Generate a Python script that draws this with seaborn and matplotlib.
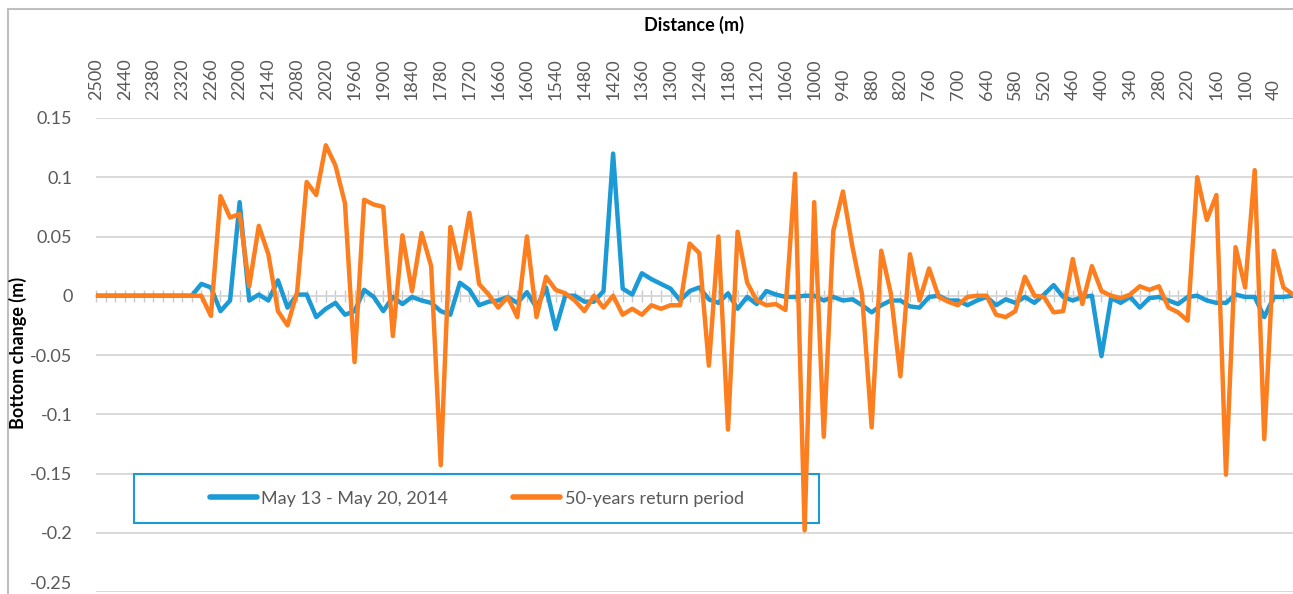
import numpy as np
import pandas as pd
import seaborn as sns
import matplotlib.pyplot as plt
from matplotlib.patches import Rectangle

# distance categories (m), one every 20 m from 2500 down to 0
distance = np.arange(2500, -1, -20)

# bottom change (m), May 13 - May 20, 2014
may_2014 = [
    0, 0, 0, 0, 0, 0, 0, 0, 0, 0,
    0, 0.010, 0.007, -0.013, -0.004, 0.079, -0.004, 0.001, -0.004, 0.013,
    -0.010, 0.001, 0.001, -0.018, -0.011, -0.006, -0.016, -0.013, 0.005, -0.001,
    -0.013, -0.001, -0.007, -0.001, -0.004, -0.006, -0.013, -0.016, 0.011, 0.005,
    -0.008, -0.005, -0.004, -0.001, -0.006, 0.003, -0.010, 0.007, -0.028, 0,
    0, -0.005, -0.005, 0.004, 0.120, 0.006, 0.001, 0.019, 0.014, 0.010,
    0.006, -0.004, 0.004, 0.007, -0.003, -0.006, 0.002, -0.011, -0.001, -0.007,
    0.004, 0.001, -0.001, -0.001, 0, 0, -0.004, -0.001, -0.004, -0.003,
    -0.008, -0.014, -0.008, -0.004, -0.004, -0.009, -0.010, -0.001, 0, -0.004,
    -0.004, -0.008, -0.004, -0.001, -0.008, -0.003, -0.006, -0.001, -0.006, 0.001,
    0.009, -0.001, -0.004, -0.001, 0, -0.051, -0.002, -0.006, -0.001, -0.010,
    -0.002, -0.001, -0.004, -0.007, -0.001, 0, -0.004, -0.006, -0.006, 0.001,
    -0.001, -0.001, -0.018, -0.001, -0.001, 0,
]

# bottom change (m), 50-years return period
return_50y = [
    0, 0, 0, 0, 0, 0, 0, 0, 0, 0,
    0, 0, -0.017, 0.084, 0.066, 0.069, 0.008, 0.059, 0.035, -0.013,
    -0.025, 0.003, 0.096, 0.085, 0.127, 0.110, 0.078, -0.056, 0.081, 0.077,
    0.075, -0.034, 0.051, 0.004, 0.053, 0.025, -0.143, 0.058, 0.023, 0.070,
    0.010, 0.001, -0.010, -0.001, -0.018, 0.050, -0.018, 0.016, 0.005, 0.002,
    -0.004, -0.013, 0, -0.010, 0, -0.016, -0.011, -0.016, -0.008, -0.011,
    -0.008, -0.008, 0.044, 0.036, -0.059, 0.050, -0.113, 0.054, 0.011, -0.004,
    -0.008, -0.007, -0.012, 0.103, -0.198, 0.079, -0.119, 0.055, 0.088, 0.041,
    0.001, -0.111, 0.038, 0.002, -0.068, 0.035, -0.004, 0.023, -0.001, -0.005,
    -0.008, -0.001, 0, 0, -0.016, -0.018, -0.013, 0.016, 0, -0.001,
    -0.014, -0.013, 0.031, -0.007, 0.025, 0.004, 0, -0.002, 0.001, 0.008,
    0.005, 0.008, -0.010, -0.014, -0.021, 0.100, 0.064, 0.085, -0.151, 0.041,
    0.007, 0.106, -0.121, 0.038, 0.007, 0.001,
]

series_names = ['May 13 - May 20, 2014', '50-years return period']
colors = ['#1b9ad6', '#fd7e1e']

label_dist = np.arange(2500, 39, -60)
y_ticks = [0.15, 0.1, 0.05, 0, -0.05, -0.1, -0.15, -0.2, -0.25]
y_labels = ['0.15', '0.1', '0.05', '0', '-0.05', '-0.1', '-0.15', '-0.2', '-0.25']

df = pd.concat([
    pd.DataFrame({'Distance': distance, 'Change': may_2014, 'Series': series_names[0]}),
    pd.DataFrame({'Distance': distance, 'Change': return_50y, 'Series': series_names[1]}),
])

sns.set_style('white')
plt.rcParams['font.family'] = ['Lato', 'DejaVu Sans']

W, H = 1293, 594
fig = plt.figure(figsize=(W / 100, H / 100), dpi=100)
ax = fig.add_axes([96 / W, 2 / H, 1197 / W, 474 / H])

sns.lineplot(data=df, x='Distance', y='Change', hue='Series', palette=colors,
             linewidth=3.2, estimator=None, sort=False, errorbar=None,
             legend=False, ax=ax)

ax.set_xlim(2500, 0)
ax.set_ylim(-0.25, 0.15)
ax.set_xlabel('')
ax.set_ylabel('')

# y axis
ax.set_yticks(y_ticks)
ax.set_yticklabels(y_labels)
ax.tick_params(axis='y', length=0, pad=17, labelsize=13, labelcolor='#595959')
ax.get_yticklabels()[-1].set_va('bottom')
ax.yaxis.grid(True, color='#d9d9d9', linewidth=1.4)
ax.set_axisbelow(True)

# category axis line at zero with tick marks
for s in ['left', 'right', 'top']:
    ax.spines[s].set_visible(False)
ax.spines['bottom'].set_position(('data', 0))
ax.spines['bottom'].set_color('#c8c8c8')
ax.spines['bottom'].set_linewidth(1.3)
ax.spines['bottom'].set_zorder(0.5)
ax.set_xticks(distance)
ax.tick_params(axis='x', bottom=True, direction='inout', length=8, width=1,
               color='#c8c8c8', labelbottom=False)

# labels placed high (on top)
sec = ax.secondary_xaxis('top')
sec.set_xticks(label_dist)
sec.set_xticklabels([str(d) for d in label_dist], rotation=90)
sec.tick_params(length=0, pad=13, labelsize=13, labelcolor='#595959')
for s in sec.spines.values():
    s.set_visible(False)

# legend
handles = [plt.Line2D([], [], color=c, linewidth=4) for c in colors]
ax.legend(handles, series_names, loc='center', bbox_to_anchor=(0.318, 0.197),
          ncol=2, frameon=False, fontsize=13, handlelength=2.6,
          handletextpad=0.25, columnspacing=3.6, labelcolor='#595959')
ax.add_patch(Rectangle((0.0317, 0.1456), 0.5723, 0.1034, transform=ax.transAxes,
                       fill=False, edgecolor='#1b9ad6', linewidth=1.5, zorder=1))

# titles
fig.text(694 / W, 1 - 25 / H, 'Distance (m)', ha='center', va='center',
         fontsize=13, fontweight='bold', color='black')
fig.text(18 / W, 1 - 353 / H, 'Bottom change (m)', rotation=90, ha='center',
         va='center', fontsize=13, fontweight='bold', color='black')

# chart area border
fig.patches.append(Rectangle((8 / W, -0.05), 1.1, 1.05 - 9 / H,
                             transform=fig.transFigure, fill=False,
                             edgecolor='#bfbfbf', linewidth=1.5))

fig.savefig('out.png', dpi=100)
